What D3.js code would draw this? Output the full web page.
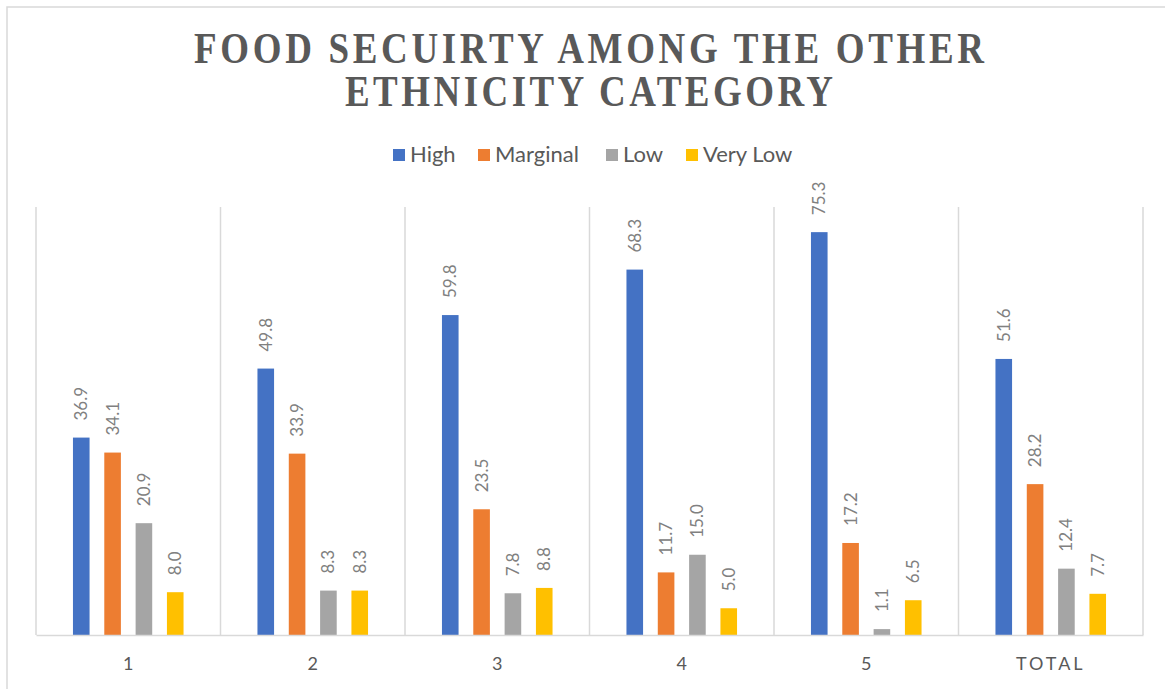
<!DOCTYPE html>
<html>
<head>
<meta charset="utf-8">
<script src="https://cdn.jsdelivr.net/npm/d3@7"></script>
<style>
  html, body { margin: 0; padding: 0; background: #fff; }
  svg { display: block; }
</style>
</head>
<body>
<svg id="chart" width="1165" height="689"></svg>
<script>
const categories = ["1", "2", "3", "4", "5", "TOTAL"];
const seriesNames = ["High", "Marginal", "Low", "Very Low"];
const seriesColors = ["#4472C4", "#ED7D31", "#A5A5A5", "#FFC000"];
const high = [36.9, 49.8, 59.8, 68.3, 75.3, 51.6];
const marginal = [34.1, 33.9, 23.5, 11.7, 17.2, 28.2];
const low = [20.9, 8.3, 7.8, 15.0, 1.1, 12.4];
const veryLow = [8.0, 8.3, 8.8, 5.0, 6.5, 7.7];
const seriesValues = [high, marginal, low, veryLow];
const titleLines = ["FOOD SECUIRTY AMONG THE OTHER", "ETHNICITY CATEGORY"];

const svg = d3.select("#chart");
const W = 1165, H = 689;
const plot = { left: 36, right: 1143, top: 207, bottom: 635 };

// outer border
svg.append("rect").attr("x", 7).attr("y", 7).attr("width", W + 10).attr("height", H + 10)
  .attr("fill", "#fff").attr("stroke", "#D9D9D9").attr("stroke-width", 1.5);

// title (one text element, two lines)
const sy = 1.2;
const titleY = [63, 106];
const titleW = [790, 488];
const title = svg.append("text")
  .attr("transform", `scale(1,${sy})`)
  .attr("text-anchor", "middle")
  .attr("font-family", "'Liberation Serif', 'Times New Roman', serif")
  .attr("font-weight", "bold")
  .attr("font-size", 37)
  .attr("fill", "#595959");
titleLines.forEach((t, i) => {
  title.append("tspan")
    .attr("x", 589)
    .attr("y", titleY[i] / sy)
    .attr("textLength", titleW[i])
    .attr("lengthAdjust", "spacing")
    .text(t);
});

// legend
const legendX = [393, 478, 606, 686];
const lg = svg.append("g");
seriesNames.forEach((s, i) => {
  lg.append("rect").attr("x", legendX[i]).attr("y", 149).attr("width", 12).attr("height", 12)
    .attr("fill", seriesColors[i]);
  lg.append("text").attr("x", legendX[i] + 17).attr("y", 162)
    .attr("font-family", "Lato, 'Open Sans', sans-serif").attr("font-size", 22)
    .attr("fill", "#595959").text(s);
});

// scales
const x = d3.scaleBand().domain(categories).range([plot.left, plot.right]).paddingInner(0).paddingOuter(0);
const xs = d3.scaleBand().domain(seriesNames).range([0, x.bandwidth()])
  .paddingInner(0.47).paddingOuter(1.18);
const y = d3.scaleLinear().domain([0, 80]).range([plot.bottom, plot.top]);

// vertical separators
const seps = categories.map(c => x(c)).concat([plot.right]);
svg.append("g").selectAll("line").data(seps).join("line")
  .attr("x1", d => d).attr("x2", d => d).attr("y1", plot.top).attr("y2", plot.bottom)
  .attr("stroke", "#D9D9D9").attr("stroke-width", 1.5);

// bars
const gBars = svg.append("g");
seriesNames.forEach((s, si) => {
  const g = gBars.append("g");
  g.selectAll("rect").data(categories).join("rect")
    .attr("x", c => x(c) + xs(s))
    .attr("y", (c, ci) => y(seriesValues[si][ci]))
    .attr("width", xs.bandwidth())
    .attr("height", (c, ci) => y(0) - y(seriesValues[si][ci]))
    .attr("fill", seriesColors[si]);
  g.selectAll("text").data(categories).join("text")
    .attr("transform", (c, ci) => `translate(${x(c) + xs(s) + xs.bandwidth() / 2},${y(seriesValues[si][ci]) - 17}) rotate(-90)`)
    .attr("dy", "0.35em")
    .attr("font-family", "Lato, 'Open Sans', sans-serif").attr("font-size", 17)
    .attr("fill", "#808080")
    .text((c, ci) => seriesValues[si][ci].toFixed(1));
});

// x axis
const xAxis = d3.axisBottom(x).tickSize(0).tickPadding(22);
const ax = svg.append("g").attr("transform", `translate(0,${plot.bottom})`).call(xAxis);
ax.select(".domain").attr("stroke", "#D9D9D9").attr("stroke-width", 1.5);
ax.selectAll("text")
  .attr("font-family", "Lato, 'Open Sans', sans-serif").attr("font-size", 18)
  .attr("fill", "#595959")
  .attr("letter-spacing", d => d === "TOTAL" ? "3px" : null);
</script>
</body>
</html>
